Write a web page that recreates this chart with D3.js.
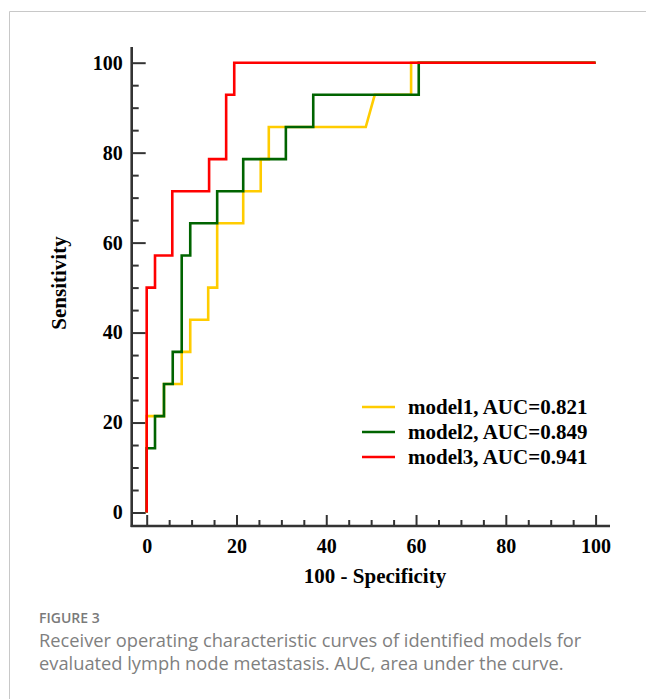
<!DOCTYPE html>
<html>
<head>
<meta charset="utf-8">
<script src="https://cdn.jsdelivr.net/npm/d3@7"></script>
<style>
  body { margin: 0; background: #fff; }
  #wrap { position: relative; width: 646px; height: 699px; }
  .tick text { font-family: "Liberation Serif", "Times New Roman", serif; font-weight: bold; font-size: 20px; fill: #000; }
  .caption { position: absolute; left: 39px; font-family: "Open Sans", sans-serif; color: #7f7f7f; margin: 0; }
  #figlabel { top: 608px; font-size: 14px; font-weight: 600; color: #7a7a7a; }
  #figtext { top: 628px; font-size: 18.3px; line-height: 23px; white-space: nowrap; }
</style>
</head>
<body>
<div id="wrap">
  <div id="roc"></div>
  <p class="caption" id="figlabel"></p>
  <p class="caption" id="figtext"></p>
</div>
<script>
// ROC points: [100 - specificity, sensitivity]
var model1 = [[0, 0], [0, 21.43], [3.85, 21.43], [3.85, 28.57], [7.8, 28.57], [7.8, 35.71],
  [9.7, 35.71], [9.7, 42.86], [13.7, 42.86], [13.7, 50], [15.7, 50], [15.7, 64.29],
  [21.5, 64.29], [21.5, 71.43], [25.4, 71.43], [25.4, 78.57], [27.2, 78.57], [27.2, 85.71],
  [48.8, 85.71], [50.8, 92.86], [58.9, 92.86], [58.9, 100], [100, 100]];
var model2 = [[0, 0], [0, 14.29], [1.85, 14.29], [1.85, 21.43], [3.85, 21.43], [3.85, 28.57],
  [5.8, 28.57], [5.8, 35.71], [7.8, 35.71], [7.8, 57.14], [9.7, 57.14], [9.7, 64.29],
  [15.7, 64.29], [15.7, 71.43], [21.5, 71.43], [21.5, 78.57], [31.0, 78.57], [31.0, 85.71],
  [37.1, 85.71], [37.1, 92.86], [60.6, 92.86], [60.6, 100], [100, 100]];
var model3 = [[0, 0], [0, 50], [1.85, 50], [1.85, 57.14], [5.7, 57.14], [5.7, 71.43],
  [13.9, 71.43], [13.9, 78.57], [17.7, 78.57], [17.7, 92.86], [19.5, 92.86], [19.5, 100], [100, 100]];

var seriesNames = ["model1, AUC=0.821", "model2, AUC=0.849", "model3, AUC=0.941"];
var seriesColors = ["#ffcc00", "#006400", "#ff0000"];
var majorTicks = [0, 20, 40, 60, 80, 100];
var minorTicks = [5, 10, 15, 25, 30, 35, 45, 50, 55, 65, 70, 75, 85, 90, 95];

var width = 646, height = 699;

var svg = d3.select("#roc").append("svg")
    .attr("width", width)
    .attr("height", height)
    .style("display", "block");

// card border (top + left only)
svg.append("path")
    .attr("d", "M9.5," + height + "V11.5H" + width)
    .attr("fill", "none")
    .attr("stroke", "#c8c8c8")
    .attr("stroke-width", 1);

var x = d3.scaleLinear().domain([0, 100]).range([146.7, 595.6]);
var y = d3.scaleLinear().domain([0, 100]).range([512.5, 62.7]);

var axisX0 = 131.7, axisY0 = 526;

// minor ticks
svg.append("g")
    .attr("transform", "translate(0," + axisY0 + ")")
    .call(d3.axisBottom(x).tickValues(minorTicks).tickSize(-6).tickFormat(""))
    .call(function(g) { g.select(".domain").remove(); });
svg.append("g")
    .attr("transform", "translate(" + axisX0 + ",0)")
    .call(d3.axisLeft(y).tickValues(minorTicks).tickSize(-7).tickFormat(""))
    .call(function(g) { g.select(".domain").remove(); });

// major ticks with labels
svg.append("g")
    .attr("transform", "translate(0," + axisY0 + ")")
    .call(d3.axisBottom(x).tickValues(majorTicks).tickSize(-11).tickPadding(13).tickFormat(d3.format("d")))
    .call(function(g) { g.select(".domain").remove(); });
svg.append("g")
    .attr("transform", "translate(" + axisX0 + ",0)")
    .call(d3.axisLeft(y).tickValues(majorTicks).tickSize(-14).tickPadding(9).tickFormat(d3.format("d")))
    .call(function(g) { g.select(".domain").remove(); });

svg.selectAll(".tick line")
    .attr("stroke", "#333")
    .attr("stroke-width", 2);

// axis lines, a bit longer than the data range
svg.append("line")
    .attr("x1", axisX0).attr("x2", axisX0)
    .attr("y1", 47).attr("y2", axisY0 + 1)
    .attr("stroke", "#333").attr("stroke-width", 2.6);
svg.append("line")
    .attr("x1", axisX0 - 1).attr("x2", 610)
    .attr("y1", axisY0).attr("y2", axisY0)
    .attr("stroke", "#333").attr("stroke-width", 2.6);

var line = d3.line()
    .x(function(d) { return x(d[0]); })
    .y(function(d) { return y(d[1]); });

[model1, model2, model3].forEach(function(pts, i) {
    svg.append("path")
        .datum(pts)
        .attr("d", line)
        .attr("fill", "none")
        .attr("stroke", seriesColors[i])
        .attr("stroke-width", 2.6);
});

// legend
var legend = svg.append("g").attr("transform", "translate(362,407)");
seriesNames.forEach(function(name, i) {
    legend.append("line")
        .attr("x1", 0).attr("x2", 33)
        .attr("y1", i * 25).attr("y2", i * 25)
        .attr("stroke", seriesColors[i])
        .attr("stroke-width", 2.6);
    legend.append("text")
        .attr("x", 46)
        .attr("y", i * 25 + 7)
        .style("font-family", "'Liberation Serif', 'Times New Roman', serif")
        .style("font-weight", "bold")
        .style("font-size", "21px")
        .text(name);
});

// axis titles
svg.append("text")
    .attr("x", 375)
    .attr("y", 583)
    .attr("text-anchor", "middle")
    .style("font-family", "'Liberation Serif', 'Times New Roman', serif")
    .style("font-weight", "bold")
    .style("font-size", "21px")
    .text("100 - Specificity");

svg.append("text")
    .attr("transform", "translate(66,283) rotate(-90)")
    .attr("text-anchor", "middle")
    .style("font-family", "'Liberation Serif', 'Times New Roman', serif")
    .style("font-weight", "bold")
    .style("font-size", "21px")
    .text("Sensitivity");

// caption (html, two lines)
d3.select("#figlabel").text("FIGURE 3");
d3.select("#figtext").html("Receiver operating characteristic curves of identified models for<br>" +
    "evaluated lymph node metastasis. AUC, area under the curve.");
</script>
</body>
</html>
